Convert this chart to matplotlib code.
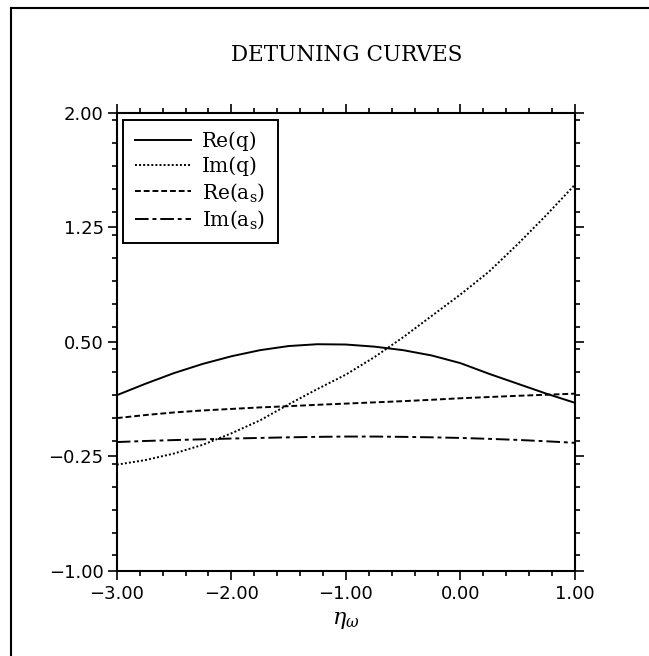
import matplotlib
matplotlib.use("Agg")
import matplotlib.pyplot as plt
from matplotlib.lines import Line2D
from matplotlib.ticker import MultipleLocator, FixedLocator

eta = [-3.0, -2.75, -2.5, -2.25, -2.0, -1.75, -1.5, -1.25, -1.0,
       -0.75, -0.5, -0.25, 0.0, 0.25, 0.5, 0.75, 1.0]
re_q = [0.15, 0.225, 0.295, 0.355, 0.405, 0.445, 0.472, 0.484, 0.482,
        0.468, 0.445, 0.41, 0.36, 0.29, 0.225, 0.16, 0.10]
im_q = [-0.305, -0.275, -0.232, -0.175, -0.10, -0.015, 0.09, 0.19, 0.285,
        0.40, 0.53, 0.67, 0.81, 0.96, 1.14, 1.33, 1.53]
re_as = [0.0, 0.02, 0.037, 0.05, 0.06, 0.07, 0.078, 0.087, 0.095,
         0.103, 0.111, 0.12, 0.13, 0.138, 0.146, 0.153, 0.16]
im_as = [-0.157, -0.15, -0.144, -0.139, -0.134, -0.13, -0.126, -0.123, -0.121,
         -0.121, -0.123, -0.126, -0.13, -0.136, -0.143, -0.152, -0.162]

labels = ["Re(q)", "Im(q)", r"Re(a$_\mathregular{s}$)", r"Im(a$_\mathregular{s}$)"]
xticks = [-3.0, -2.0, -1.0, 0.0, 1.0]
yticks = [-1.0, -0.25, 0.5, 1.25, 2.0]

plt.rcParams["font.family"] = ["DejaVu Sans"]
plt.rcParams["mathtext.fontset"] = "dejavuserif"

fig = plt.figure(figsize=(6.49, 6.56), dpi=100)
ax = fig.add_axes([0.180, 0.130, 0.706, 0.698])

lw = 1.4
ax.plot(eta, re_q, color="black", lw=lw, linestyle="-", label=labels[0])
ax.plot(eta, im_q, color="black", lw=lw, linestyle=(0, (1, 1.1)), label=labels[1])
ax.plot(eta, re_as, color="black", lw=lw, linestyle=(0, (3, 1.5)), label=labels[2])
ax.plot(eta, im_as, color="black", lw=lw, linestyle=(0, (7, 2, 2, 2)), label=labels[3])

ax.set_xlim(-3, 1)
ax.set_ylim(-1, 2)
ax.xaxis.set_major_locator(FixedLocator(xticks))
ax.yaxis.set_major_locator(FixedLocator(yticks))
ax.xaxis.set_minor_locator(MultipleLocator(0.2))
ax.yaxis.set_minor_locator(MultipleLocator(0.15))
ax.set_xticklabels([f"{v:.2f}".replace("-", "\u2212") for v in xticks])
ax.set_yticklabels([f"{v:.2f}".replace("-", "\u2212") for v in yticks])
ax.tick_params(which="both", direction="out", top=True, right=True,
               labeltop=False, labelright=False, labelsize=13, width=1.2)
ax.tick_params(axis="x", which="both", pad=4)
ax.tick_params(axis="y", which="both", pad=3)
ax.tick_params(which="major", length=6.5)
ax.tick_params(which="minor", length=3.5)
for s in ax.spines.values():
    s.set_linewidth(1.5)

ax.set_xlabel(r"$\eta_\omega$", fontsize=16, labelpad=5)

leg = ax.legend(loc="upper left", bbox_to_anchor=(0.013, 0.985), frameon=True,
                fancybox=False, edgecolor="black", framealpha=1,
                prop={"family": "DejaVu Serif", "size": 14.5},
                handlelength=2.8, handletextpad=0.55, labelspacing=0.25,
                borderpad=0.6, borderaxespad=0)
leg.get_frame().set_linewidth(1.4)

fig.text(0.535, 0.916, "DETUNING CURVES", ha="center", va="center",
         fontsize=15.5, family="DejaVu Serif")

# page frame (left and top lines)
fig.add_artist(Line2D([11/649, 11/649], [0, 1 - 8/656], color="black", lw=1.5,
                      transform=fig.transFigure))
fig.add_artist(Line2D([11/649, 1], [1 - 8/656, 1 - 8/656], color="black", lw=1.5,
                      transform=fig.transFigure))

fig.savefig("out.png", dpi=100)
